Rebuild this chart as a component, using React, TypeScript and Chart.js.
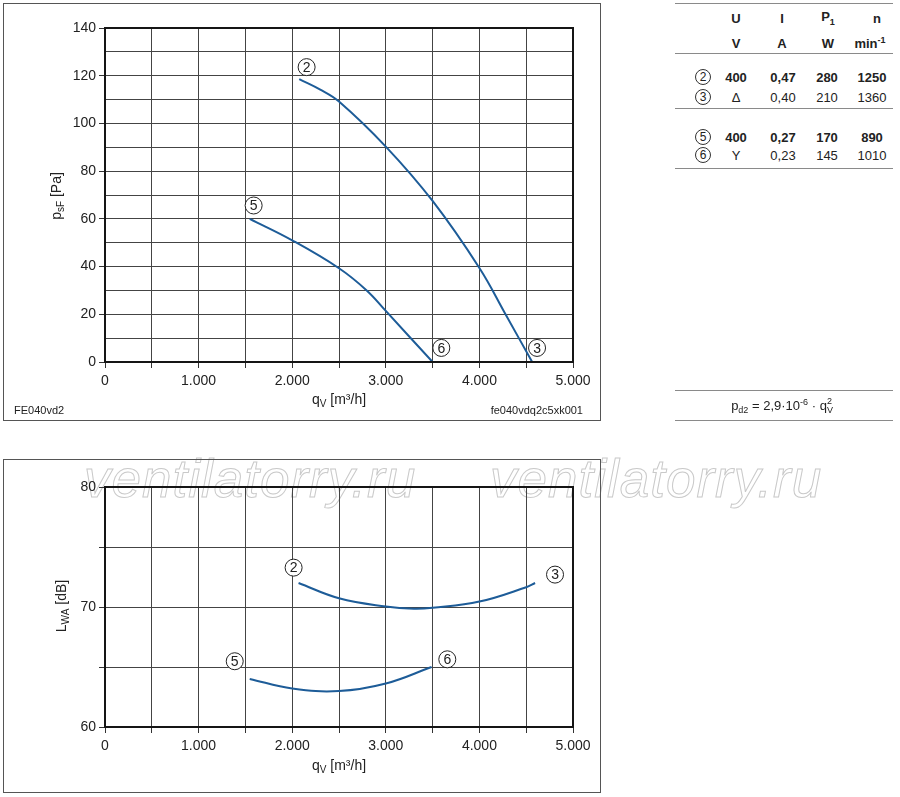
import React, { useEffect, useRef } from 'react';
import { Chart, registerables } from 'chart.js';

Chart.register(...registerables);

const FONT = '"Liberation Sans", Arial, Helvetica, sans-serif';
const CURVE_COLOR = '#1d5c98';

// ---- Pressure chart data (q_V in m³/h, p_sF in Pa) ----
const pressureYMax = 140;
const flowMax = 5000;
const curve2Q = [2075, 2300, 2500, 3000, 3500, 4000, 4279, 4564];
const curve2P = [118.6, 114.2, 109.2, 90.3, 67.5, 39.4, 20, 0];
const curve5Q = [1546, 2000, 2500, 2796, 3000, 3500];
const curve5P = [60, 51, 39.3, 30, 21.4, 0];
const pressureMarkQ = [2154, 1588, 3593, 4616];
const pressureMarkP = [123.6, 65.6, 5.9, 5.9];
const pressureMarkText = ['2', '5', '6', '3'];

// ---- Sound chart data (q_V in m³/h, L_WA in dB) ----
const soundYMin = 60;
const soundYMax = 80;
const sound23Q = [2068, 2500, 3000, 3300, 3500, 4000, 4500, 4595];
const sound23L = [72.0, 70.73, 70.04, 69.85, 69.93, 70.45, 71.65, 72.0];
const sound56Q = [1546, 2000, 2500, 3000, 3489];
const sound56L = [64.0, 63.21, 62.99, 63.62, 65.0];
const soundMarkQ = [2015, 4808, 1386, 3657];
const soundMarkL = [73.28, 72.7, 65.48, 65.64];
const soundMarkText = ['2', '3', '5', '6'];

// ---- Table data ----
const headSymbols = ['U', 'I', 'P', 'n'];
const headSubs = ['', '', '1', ''];
const headUnits = ['V', 'A', 'W', 'min'];
const headUnitSups = ['', '', '', '-1'];
const rowMarks = ['2', '3', '5', '6'];
const rowU = ['400', 'Δ', '400', 'Y'];
const rowI = ['0,47', '0,40', '0,27', '0,23'];
const rowP = ['280', '210', '170', '145'];
const rowN = ['1250', '1360', '890', '1010'];
const rowBold = [true, false, true, false];

const watermarkText = 'ventilatorry.ru';

const fmtFlow = (v: number) => (v === 0 ? '0' : `${v / 1000}.000`);

const toPoints = (xs: number[], ys: number[]) => xs.map((x, i) => ({ x, y: ys[i] }));

const circleLabels = {
  id: 'circleLabels',
  afterDatasetsDraw(chart: any, _args: any, opts: any) {
    const { ctx } = chart;
    const xs = chart.scales.x;
    const ys = chart.scales.y;
    const items = opts.items || [];
    for (let i = 0; i < items.length; i++) {
      const it = items[i];
      const px = xs.getPixelForValue(it.x);
      const py = ys.getPixelForValue(it.y);
      ctx.save();
      ctx.beginPath();
      ctx.arc(px, py, 8.5, 0, Math.PI * 2);
      ctx.fillStyle = '#fff';
      ctx.fill();
      ctx.lineWidth = 1;
      ctx.strokeStyle = '#222';
      ctx.stroke();
      ctx.fillStyle = '#222';
      ctx.font = `14px ${FONT}`;
      ctx.textAlign = 'center';
      ctx.textBaseline = 'middle';
      ctx.fillText(it.t, px, py + 1);
      ctx.restore();
    }
  },
};

const framePlugin = {
  id: 'frameBox',
  afterDatasetsDraw(chart: any) {
    const { ctx, chartArea } = chart;
    ctx.save();
    ctx.lineWidth = 2;
    ctx.strokeStyle = '#151515';
    ctx.strokeRect(chartArea.left, chartArea.top, chartArea.right - chartArea.left, chartArea.bottom - chartArea.top);
    ctx.restore();
  },
};

function makeConfig(opts: {
  datasets: any[];
  yMin: number;
  yMax: number;
  yStep: number;
  yLabelEvery: number;
  yMinorTicks: boolean;
  padTop: number;
  padRight: number;
  yWidth: number;
  xHeight: number;
  labels: any[];
}): any {
  return {
    type: 'line',
    data: { datasets: opts.datasets },
    plugins: [circleLabels, framePlugin],
    options: {
      animation: false,
      responsive: false,
      maintainAspectRatio: false,
      layout: { padding: { top: opts.padTop, right: opts.padRight, left: 0, bottom: 0 } },
      plugins: {
        legend: { display: false },
        tooltip: { enabled: false },
        title: { display: false },
        circleLabels: { items: opts.labels },
      },
      elements: { point: { radius: 0 } },
      scales: {
        x: {
          type: 'linear',
          min: 0,
          max: flowMax,
          afterFit: (s: any) => {
            s.height = opts.xHeight;
          },
          ticks: {
            stepSize: 500,
            autoSkip: false,
            maxRotation: 0,
            padding: 5,
            color: '#222',
            font: { family: FONT, size: 14 },
            callback: (v: any) => (Number(v) % 1000 === 0 ? fmtFlow(Number(v)) : ''),
          },
          grid: { color: '#444', lineWidth: 1, tickLength: 6, tickColor: '#333' },
          border: { display: true, color: '#151515', width: 2 },
        },
        y: {
          type: 'linear',
          min: opts.yMin,
          max: opts.yMax,
          afterFit: (s: any) => {
            s.width = opts.yWidth;
          },
          ticks: {
            stepSize: opts.yStep,
            autoSkip: false,
            padding: 3,
            color: '#222',
            font: { family: FONT, size: 14 },
            callback: (v: any) => (Number(v) % opts.yLabelEvery === 0 ? String(v) : ''),
          },
          grid: {
            color: '#444',
            lineWidth: 1,
            tickLength: 6,
            tickColor: (c: any) =>
              opts.yMinorTicks || (c.tick && c.tick.value % opts.yLabelEvery === 0) ? '#333' : 'rgba(0,0,0,0)',
          },
          border: { display: true, color: '#151515', width: 2 },
        },
      },
    },
  };
}

const curveStyle = {
  borderColor: CURVE_COLOR,
  borderWidth: 2,
  pointRadius: 0,
  fill: false,
  tension: 0.4,
};

const Circ: React.FC<{ t: string }> = ({ t }) => (
  <span
    style={{
      display: 'inline-block',
      width: 14,
      height: 14,
      border: '1px solid #333',
      borderRadius: '50%',
      fontSize: 12,
      lineHeight: '14px',
      textAlign: 'center',
      fontWeight: 'normal',
      color: '#222',
    }}
  >
    {t}
  </span>
);

const abs = (left: number, top: number, extra: React.CSSProperties = {}): React.CSSProperties => ({
  position: 'absolute',
  left,
  top,
  transform: 'translate(-50%, -50%)',
  whiteSpace: 'nowrap',
  ...extra,
});

const hline = (left: number, top: number, width: number): React.CSSProperties => ({
  position: 'absolute',
  left,
  top,
  width,
  height: 0,
  borderTop: '1px solid #8a8a8a',
});

export default function App() {
  const topRef = useRef<HTMLCanvasElement | null>(null);
  const botRef = useRef<HTMLCanvasElement | null>(null);

  useEffect(() => {
    document.body.style.margin = '0';
    const topChart = new Chart(
      topRef.current as HTMLCanvasElement,
      makeConfig({
        datasets: [
          { ...curveStyle, data: toPoints(curve2Q, curve2P) },
          { ...curveStyle, data: toPoints(curve5Q, curve5P) },
        ],
        yMin: 0,
        yMax: pressureYMax,
        yStep: 10,
        yLabelEvery: 20,
        yMinorTicks: false,
        padTop: 28,
        padRight: 27,
        yWidth: 105,
        xHeight: 58,
        labels: pressureMarkQ.map((x, i) => ({ x, y: pressureMarkP[i], t: pressureMarkText[i] })),
      })
    );
    const botChart = new Chart(
      botRef.current as HTMLCanvasElement,
      makeConfig({
        datasets: [
          { ...curveStyle, data: toPoints(sound23Q, sound23L) },
          { ...curveStyle, data: toPoints(sound56Q, sound56L) },
        ],
        yMin: soundYMin,
        yMax: soundYMax,
        yStep: 5,
        yLabelEvery: 10,
        yMinorTicks: true,
        padTop: 27,
        padRight: 27,
        yWidth: 105,
        xHeight: 66,
        labels: soundMarkQ.map((x, i) => ({ x, y: soundMarkL[i], t: soundMarkText[i] })),
      })
    );
    return () => {
      topChart.destroy();
      botChart.destroy();
    };
  }, []);

  const colX = [736, 783, 827, 872];
  const headX = [736, 782, 828, 877];
  const unitX = [736, 782, 828, 870];
  const rowY = [77, 97, 137, 155];
  const txt: React.CSSProperties = { fontSize: 13, color: '#222' };

  return (
    <div
      style={{
        position: 'absolute',
        left: 0,
        top: 0,
        width: 900,
        height: 797,
        background: '#fff',
        fontFamily: FONT,
        color: '#222',
        overflow: 'hidden',
      }}
    >
      {/* watermark (behind everything) */}
      {[84, 490].map((x, i) => (
        <div
          key={'w' + i}
          style={{
            position: 'absolute',
            left: x,
            top: 453,
            fontSize: 53,
            lineHeight: '52px',
            letterSpacing: 1,
            fontStyle: 'italic',
            color: '#fff',
            WebkitTextStroke: '1px #c9c9c9',
            whiteSpace: 'nowrap',
            pointerEvents: 'none',
          }}
        >
          {watermarkText}
        </div>
      ))}

      {/* frames */}
      <div style={{ position: 'absolute', left: 3, top: 3, width: 596, height: 416, border: '1px solid #555' }} />
      <div style={{ position: 'absolute', left: 3, top: 459, width: 596, height: 332, border: '1px solid #555' }} />

      <canvas ref={topRef} width={600} height={420} style={{ position: 'absolute', left: 0, top: 0, width: 600, height: 420 }} />
      <canvas ref={botRef} width={600} height={333} style={{ position: 'absolute', left: 0, top: 460, width: 600, height: 333 }} />

      {/* axis titles top */}
      <div style={abs(57, 196, { transform: 'translate(-50%, -50%) rotate(-90deg)', fontSize: 14 })}>
        p<sub style={{ fontSize: 10 }}>sF</sub> [Pa]
      </div>
      <div style={abs(339, 400, { fontSize: 14 })}>
        q<sub style={{ fontSize: 10 }}>V</sub> [m³/h]
      </div>
      <div style={{ position: 'absolute', left: 14, top: 404, fontSize: 11 }}>FE040vd2</div>
      <div style={{ position: 'absolute', right: 317, top: 404, fontSize: 11 }}>fe040vdq2c5xk001</div>

      {/* axis titles bottom */}
      <div style={abs(62, 606, { transform: 'translate(-50%, -50%) rotate(-90deg)', fontSize: 14 })}>
        L<sub style={{ fontSize: 10 }}>WA</sub> [dB]
      </div>
      <div style={abs(339, 766, { fontSize: 14 })}>
        q<sub style={{ fontSize: 10 }}>V</sub> [m³/h]
      </div>

      {/* table */}
      <div style={hline(675, 3, 218)} />
      <div style={hline(675, 53, 218)} />
      <div style={hline(675, 108, 218)} />
      <div style={hline(675, 168, 218)} />
      {headSymbols.map((s, i) => (
        <div key={'h' + i} style={abs(headX[i], 18, { ...txt, fontWeight: 'bold' })}>
          {s}
          {headSubs[i] ? <sub style={{ fontSize: 9 }}>{headSubs[i]}</sub> : null}
        </div>
      ))}
      {headUnits.map((s, i) => (
        <div key={'u' + i} style={abs(unitX[i], 43, { ...txt, fontWeight: 'bold' })}>
          {s}
          {headUnitSups[i] ? <sup style={{ fontSize: 9 }}>{headUnitSups[i]}</sup> : null}
        </div>
      ))}
      {rowMarks.map((m, r) => (
        <React.Fragment key={'r' + r}>
          <div style={abs(703, rowY[r], { lineHeight: 0 })}>
            <Circ t={m} />
          </div>
          {[rowU[r], rowI[r], rowP[r], rowN[r]].map((v, c) => (
            <div key={c} style={abs(colX[c], rowY[r], { ...txt, fontWeight: rowBold[r] ? 'bold' : 'normal' })}>
              {v}
            </div>
          ))}
        </React.Fragment>
      ))}
      <div style={hline(675, 390, 218)} />
      <div style={hline(675, 420, 218)} />
      <div style={abs(783, 406, { fontSize: 13 })}>
        p<sub style={{ fontSize: 9 }}>d2</sub> = 2,9·10<sup style={{ fontSize: 9 }}>-6</sup> · q
        <span style={{ display: 'inline-block', position: 'relative', width: 8 }}>
          <span style={{ position: 'absolute', left: 0, top: -2, fontSize: 9 }}>2</span>
          <span style={{ position: 'absolute', left: 0, top: 7, fontSize: 9 }}>V</span>
          &nbsp;
        </span>
      </div>
    </div>
  );
}
